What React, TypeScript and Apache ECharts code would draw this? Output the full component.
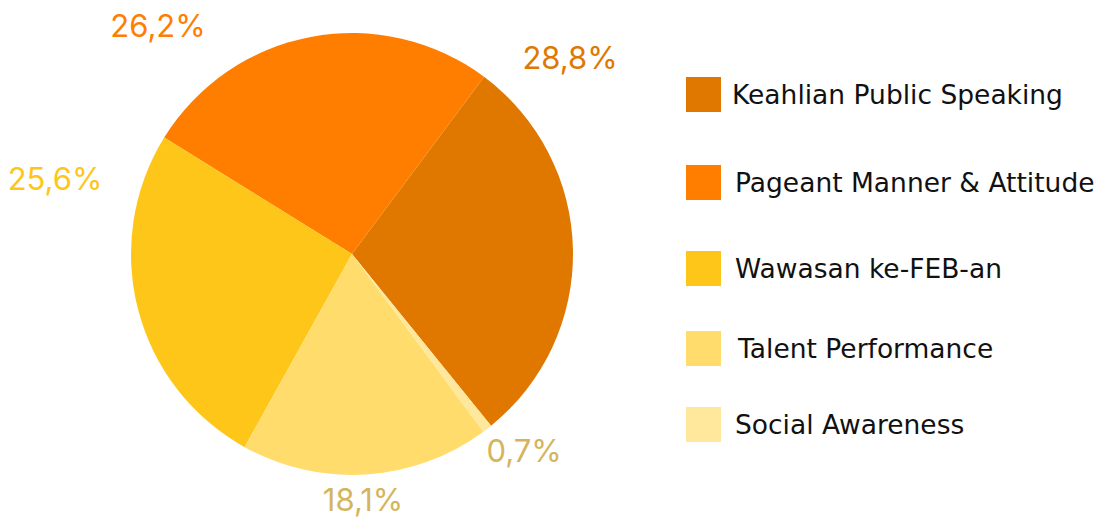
import React, { useEffect, useRef } from "react";
import * as echarts from "echarts";

const categories = [
  "Keahlian Public Speaking",
  "Pageant Manner & Attitude",
  "Wawasan ke-FEB-an",
  "Talent Performance",
  "Social Awareness",
];
const percentages = [28.8, 26.2, 25.6, 18.1, 0.7];
const sliceColors = ["#E07800", "#FF7E00", "#FFC61A", "#FFDC6B", "#FFE79B"];
const labelColors = ["#E07800", "#FF7E00", "#FFC61A", "#D4B55C", "#D4B55C"];

// label anchor points (layout only)
const labelAnchors: [number, number][] = [
  [570, 57],
  [158, 25],
  [55, 178],
  [363, 499],
  [524, 450],
];
// legend layout
const legendTops = [77, 165, 251, 331, 407];
const legendTextPad = [6, 9, 9, 12, 9];

export default function App() {
  const ref = useRef<HTMLDivElement>(null);
  useEffect(() => {
    document.body.style.margin = "0";
    const chart = echarts.init(ref.current!, null, { renderer: "svg" });
    const legendFont = "'DejaVu Sans', sans-serif";
    chart.setOption({
      animation: false,
      backgroundColor: "#ffffff",
      legend: categories.map((name, i) => ({
        data: [name],
        left: 686,
        top: legendTops[i],
        orient: "vertical",
        icon: "rect",
        itemWidth: 35,
        itemHeight: 35,
        selectedMode: false,
        padding: 0,
        textStyle: {
          fontFamily: legendFont,
          fontSize: 26.5,
          color: "#111111",
          padding: [2, 0, 0, legendTextPad[i]],
        },
      })),
      series: [
        {
          type: "pie",
          center: [352, 254],
          radius: 221,
          startAngle: -51,
          clockwise: false,
          silent: true,
          data: categories.map((name, i) => ({
            name,
            value: percentages[i],
            itemStyle: { color: sliceColors[i] },
            label: { color: labelColors[i] },
          })),
          itemStyle: { borderWidth: 0 },
          label: {
            show: true,
            position: "outside",
            overflow: "none",
            alignTo: "none",
            fontFamily: "Inter, 'Open Sans', sans-serif",
            fontSize: 31,
            formatter: (p: any) => `${p.value.toFixed(1).replace(".", ",")}%`,
          },
          labelLine: { show: false },
          labelLayout: (params: any) => ({
            x: labelAnchors[params.dataIndex][0],
            y: labelAnchors[params.dataIndex][1],
            align: "center",
            verticalAlign: "middle",
          }),
        },
      ],
    });
    return () => chart.dispose();
  }, []);
  return <div ref={ref} style={{ width: 1096, height: 519 }} />;
}
